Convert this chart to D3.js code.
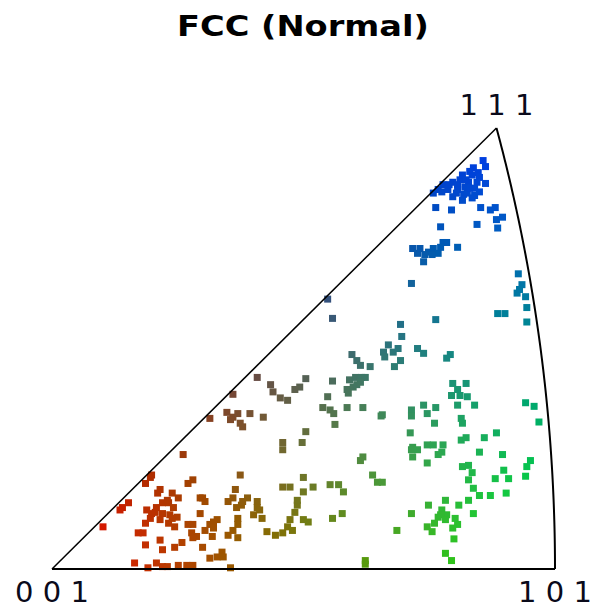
<!DOCTYPE html>
<html>
<head>
<meta charset="utf-8">
<script src="https://cdn.jsdelivr.net/npm/d3@7"></script>
<style>
  html, body { margin: 0; padding: 0; background: #fff; }
  svg { display: block; }
</style>
</head>
<body>
<svg id="chart" width="602" height="608"></svg>
<script>
// ---- DATA (stereographic projection coordinates [X, Y]) ----
const chartTitle = "FCC (Normal)";
const cornerLabels = ["0 0 1", "1 0 1", "1 1 1"];

const pointsNear111 = [
  [0.355,0.339],[0.357,0.334],[0.347,0.333],[0.351,0.329],[0.346,0.327],[0.352,0.325],
  [0.357,0.320],[0.350,0.321],[0.343,0.321],[0.336,0.323],[0.330,0.321],[0.340,0.317],
  [0.348,0.316],[0.334,0.315],[0.342,0.312],[0.352,0.313],[0.338,0.306],[0.346,0.308],
  [0.330,0.309],[0.322,0.319],[0.318,0.315],[0.314,0.312],[0.321,0.313],[0.344,0.316],
  [0.338,0.327],[0.334,0.319],[0.326,0.315],[0.341,0.323],[0.348,0.310],[0.344,0.330],
  [0.339,0.311],[0.333,0.312],[0.327,0.319],
  [0.316,0.300],[0.329,0.298],[0.353,0.300],[0.361,0.298],[0.365,0.300],[0.371,0.292],
  [0.366,0.290],[0.350,0.286],[0.320,0.284],[0.367,0.283],[0.334,0.267]
];
const pointsBlue = [
  [0.297,0.266],[0.301,0.262],[0.306,0.255],[0.310,0.263],[0.314,0.266],[0.318,0.262],
  [0.322,0.271],[0.325,0.271],[0.320,0.267],[0.313,0.261],[0.307,0.261],[0.303,0.266],
  [0.384,0.245],[0.387,0.236],[0.383,0.229],[0.390,0.226],[0.391,0.217],[0.385,0.232],
  [0.367,0.212],[0.373,0.212],[0.391,0.205],[0.316,0.207],[0.296,0.237],
  [0.227,0.224],[0.231,0.208]
];
const pointsTeal = [
  [0.287,0.203],[0.288,0.193],[0.273,0.180],[0.277,0.186],[0.281,0.180],[0.285,0.183],
  [0.274,0.176],[0.287,0.173],[0.282,0.168],[0.301,0.183],[0.306,0.179],[0.328,0.178],
  [0.325,0.175],[0.247,0.178],[0.251,0.173],[0.254,0.169],[0.262,0.168],
  [0.243,0.149],[0.245,0.157],[0.250,0.159],[0.255,0.159],[0.258,0.159],[0.248,0.151],
  [0.254,0.155],[0.244,0.146],[0.251,0.153],[0.231,0.156],[0.227,0.143],[0.223,0.134],
  [0.229,0.132],[0.232,0.129],[0.243,0.134],[0.256,0.134],[0.271,0.127],[0.233,0.120]
];
const pointsMauve = [
  [0.209,0.158],[0.204,0.151],[0.200,0.149],[0.180,0.153],[0.182,0.147],[0.188,0.142],
  [0.194,0.140],[0.169,0.159],[0.149,0.145],[0.130,0.125],[0.144,0.130],[0.149,0.126],
  [0.153,0.129],[0.163,0.129],[0.155,0.121],[0.157,0.118],[0.174,0.126],[0.147,0.124],
  [0.209,0.114],[0.190,0.105],[0.190,0.099],[0.206,0.105],[0.108,0.095]
];
const pointsGreenTeal = [
  [0.296,0.132],[0.306,0.136],[0.309,0.129],[0.316,0.134],[0.296,0.127],[0.295,0.113],
  [0.297,0.101],[0.309,0.103],[0.256,0.093],[0.330,0.154],[0.341,0.154],[0.329,0.144],
  [0.336,0.144],[0.342,0.143],[0.334,0.136],[0.348,0.136],[0.334,0.149],[0.390,0.138],
  [0.397,0.135],[0.401,0.122],[0.272,0.128],[0.337,0.125],[0.338,0.121],[0.315,0.121]
];
const pointsGreen = [
  [0.366,0.113],[0.356,0.109],[0.337,0.107],[0.341,0.109],[0.296,0.099],[0.297,0.093],
  [0.314,0.103],[0.322,0.103],[0.321,0.097],[0.318,0.095],[0.301,0.099],[0.352,0.097],
  [0.371,0.095],[0.394,0.090],[0.391,0.085],[0.390,0.077],[0.309,0.088],[0.338,0.085],
  [0.343,0.086],[0.346,0.080],[0.343,0.074],[0.372,0.082],[0.365,0.075],[0.376,0.075],
  [0.272,0.072],[0.347,0.067],[0.352,0.061],[0.361,0.061],[0.374,0.063],[0.343,0.057],
  [0.335,0.053],[0.324,0.057],[0.321,0.049],[0.318,0.043],[0.315,0.038],[0.309,0.035],
  [0.313,0.031],[0.325,0.045],[0.310,0.053],[0.296,0.046],[0.347,0.046],[0.332,0.042],
  [0.334,0.037],[0.330,0.034],[0.331,0.025],[0.284,0.032],[0.324,0.013],[0.329,0.007],
  [0.320,0.045],[0.324,0.041]
];
const pointsOlive = [
  [0.264,0.078],[0.268,0.072],[0.254,0.090],[0.207,0.076],[0.215,0.068],[0.207,0.064],
  [0.229,0.070],[0.236,0.070],[0.240,0.064],[0.231,0.042],[0.239,0.046],[0.207,0.041],
  [0.211,0.039],[0.258,0.007],[0.258,0.004]
];
const pointsBrown = [
  [0.155,0.078],[0.116,0.074],[0.151,0.066],[0.190,0.068],[0.196,0.068],[0.122,0.059],
  [0.126,0.056],[0.145,0.056],[0.149,0.059],[0.156,0.053],[0.161,0.059],[0.169,0.056],
  [0.152,0.051],[0.169,0.051],[0.122,0.046],[0.166,0.045],[0.173,0.042],[0.202,0.053],
  [0.200,0.047],[0.153,0.042],[0.153,0.037],[0.136,0.041],[0.130,0.037],[0.126,0.032],
  [0.132,0.027],[0.116,0.037],[0.116,0.026],[0.149,0.032],[0.145,0.028],[0.153,0.026],
  [0.196,0.041],[0.194,0.035],[0.177,0.031],[0.184,0.028],[0.190,0.030],[0.198,0.032],
  [0.124,0.018],[0.140,0.014],[0.136,0.010],[0.130,0.009],[0.141,0.010],[0.116,0.003],
  [0.147,0.001],[0.112,0.071],[0.133,0.039],[0.133,0.034],[0.124,0.059],[0.171,0.049],
  [0.202,0.057],[0.157,0.056]
];
const pointsRed = [
  [0.081,0.076],[0.077,0.071],[0.082,0.078],[0.042,0.035],[0.058,0.051],[0.063,0.055],
  [0.056,0.049],[0.089,0.066],[0.099,0.063],[0.104,0.059],[0.091,0.055],[0.096,0.055],
  [0.100,0.051],[0.078,0.049],[0.085,0.047],[0.091,0.046],[0.097,0.045],[0.103,0.043],
  [0.081,0.042],[0.089,0.041],[0.077,0.038],[0.096,0.038],[0.101,0.035],[0.071,0.030],
  [0.075,0.030],[0.089,0.024],[0.091,0.016],[0.077,0.020],[0.112,0.037],[0.115,0.030],
  [0.119,0.027],[0.101,0.018],[0.068,0.005],[0.086,0.005],[0.091,0.002],[0.079,0.001],
  [0.104,0.003],[0.111,0.003],[0.095,0.002],[0.107,0.022],[0.087,0.063],[0.095,0.057],
  [0.086,0.051],[0.082,0.046],[0.099,0.042]
];

// ---- CHART ----
const svg = d3.select("#chart");
const X101 = Math.SQRT2 - 1;            // stereographic x of [101]
const Y111 = (Math.sqrt(3) - 1) / 2;    // stereographic x=y of [111]

const x = d3.scaleLinear().domain([0, X101]).range([52, 555]);
const y = d3.scaleLinear().domain([0, Y111]).range([569, 128]);

const allPoints = [].concat(pointsRed, pointsBrown, pointsOlive, pointsMauve,
  pointsTeal, pointsGreenTeal, pointsGreen, pointsBlue, pointsNear111);

// IPF colour from angular distance to each corner
const corners = [[0,0,1],[Math.SQRT1_2,0,Math.SQRT1_2],[1/Math.sqrt(3),1/Math.sqrt(3),1/Math.sqrt(3)]];
const cutoff = [45, 45, 40];
function ipfColor(p) {
  const r2 = p[0]*p[0] + p[1]*p[1];
  const d = 1 + r2;
  const v = [2*p[0]/d, 2*p[1]/d, (1 - r2)/d];
  const c = corners.map((k, i) => {
    const dot = Math.min(1, v[0]*k[0] + v[1]*k[1] + v[2]*k[2]);
    const ang = Math.acos(dot) * 180 / Math.PI;
    return Math.max(0, 1 - ang / cutoff[i]);
  });
  return d3.rgb(c[0]*245, c[1]*240, c[2]*240).toString();
}

const sq = 7;
svg.append("g")
  .selectAll("rect")
  .data(allPoints)
  .join("rect")
  .attr("x", d => x(d[0]) - sq/2)
  .attr("y", d => y(d[1]) - sq/2)
  .attr("width", sq)
  .attr("height", sq)
  .attr("fill", d => ipfColor(d));

// triangle outline
const edge = svg.append("g").attr("fill", "none").attr("stroke", "#000");
edge.append("line")
  .attr("x1", x(0)).attr("y1", y(0)).attr("x2", x(X101)).attr("y2", y(0))
  .attr("stroke-width", 2);
edge.append("line")
  .attr("x1", x(0)).attr("y1", y(0)).attr("x2", x(Y111)).attr("y2", y(Y111))
  .attr("stroke-width", 1.5);
const arc = d3.range(0, 1.0001, 0.01).map(t => {
  const s = Math.sqrt(2 + t*t) + 1;
  return [1 / s, t / s];
});
edge.append("path")
  .attr("d", d3.line().x(d => x(d[0])).y(d => y(d[1]))(arc))
  .attr("stroke-width", 2);

// labels
const labelPos = [[0, 0], [X101, 0], [Y111, Y111]];
svg.append("g")
  .selectAll("text")
  .data(cornerLabels)
  .join("text")
  .attr("x", (d, i) => x(labelPos[i][0]))
  .attr("y", (d, i) => i < 2 ? 602 : 115)
  .attr("text-anchor", "middle")
  .attr("font-family", "DejaVu Sans, Verdana, sans-serif")
  .attr("font-size", 29)
  .attr("textLength", 74)
  .attr("lengthAdjust", "spacing")
  .attr("fill", "#0a0a1a")
  .text(d => d);

svg.append("text")
  .attr("transform", "translate(303,36) scale(1.16,1)")
  .attr("text-anchor", "middle")
  .attr("font-family", "DejaVu Sans, Verdana, sans-serif")
  .attr("font-weight", "bold")
  .attr("font-size", 29)
  .attr("fill", "#000")
  .text(chartTitle);
</script>
</body>
</html>
